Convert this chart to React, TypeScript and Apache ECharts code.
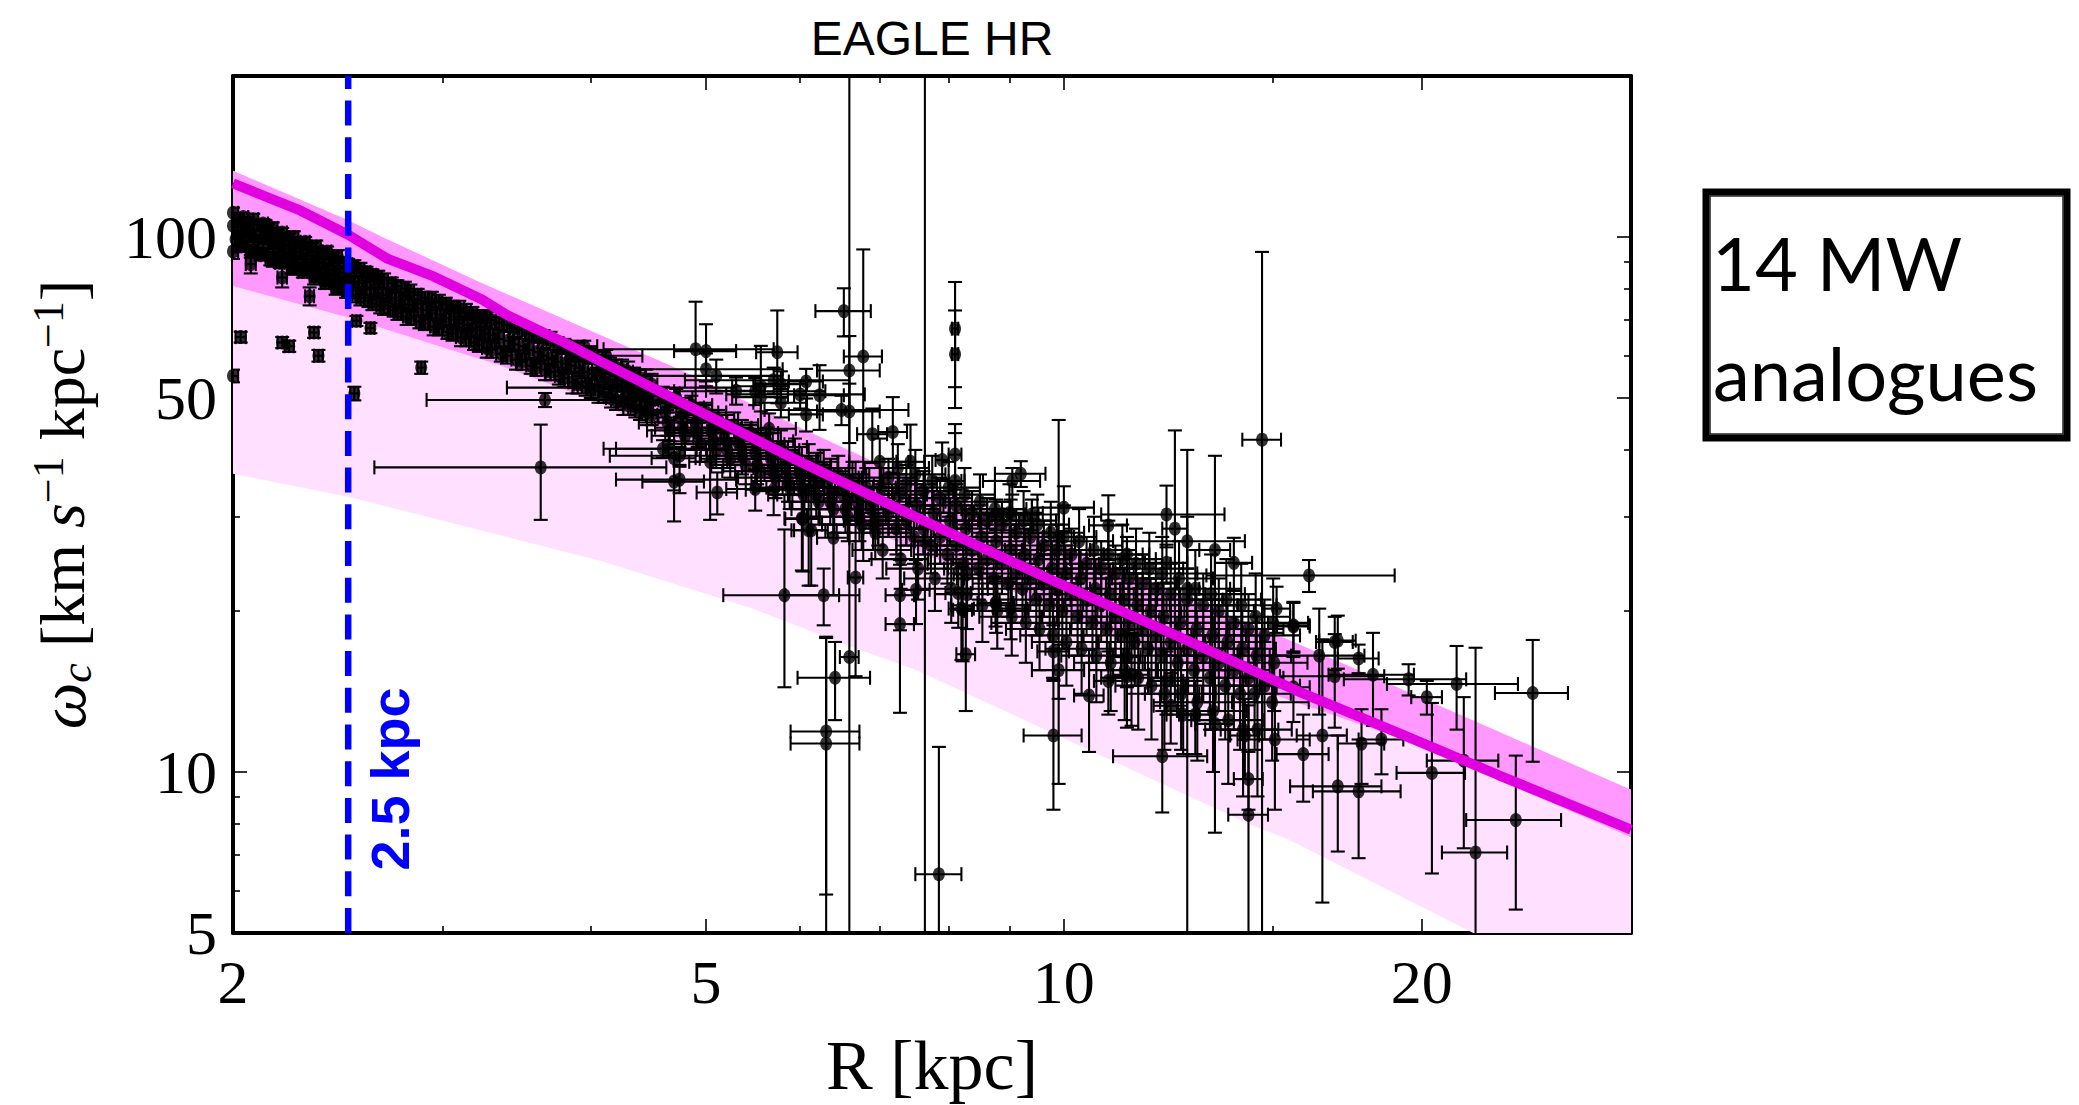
import React, { useEffect, useRef } from 'react';
import * as echarts from 'echarts';

// ---------- axes ----------
const X_MIN = 2;
const X_MAX = 30;
const Y_MIN = 5;
const Y_MAX = 200;
const xTickLabels = [2, 5, 10, 20];
const xMajorTicks = [5, 10, 20];
const xMinorTicks = [3, 4, 6, 7, 8, 9, 15];
const yTickLabels = [5, 10, 50, 100];
const yMajorTicks = [10, 50, 100];
const yMinorTicks = [6, 7, 8, 9, 20, 30, 40, 60, 70, 80, 90];

// ---------- model curve (magenta) ----------
const modelR = [2, 2.28, 2.5, 2.7, 2.95, 3.24, 3.4, 3.8, 4.08, 4.8, 6.0, 7.5, 9.7, 12.5, 15.8, 19, 23.2, 30];
const modelW = [126, 112, 101, 91, 84.4, 76.4, 71.5, 63.5, 58.5, 48.7, 38.0, 30.0, 23.0, 17.9, 14.1, 11.9, 9.87, 7.8];

// ---------- shaded bands ----------
const bandTopR = [2, 2.5, 2.67, 3.24, 4.06, 4.78, 6, 7.5, 9.7, 12.5, 15.8, 23.2, 30];
const bandTopW = [133, 107.5, 100, 82, 65.8, 56.2, 44, 35, 27.5, 21.5, 17.3, 11.9, 9.26];
const innerBandLowR = [2, 2.5, 3.37, 4.06, 4.48, 6, 7.5, 10, 13, 16, 20, 25, 30];
const innerBandLowW = [81, 70.7, 57.4, 49, 44.4, 32.5, 26, 19.8, 15.5, 13.3, 11.2, 9.0, 7.55];
const outerBandLowR = [2, 2.5, 4.08, 5.44, 6.6, 7.52, 9.72, 14.3, 15.46, 22.1, 30];
const outerBandLowW = [36.1, 32.7, 24.8, 20.3, 17.2, 15.5, 11.9, 8.0, 7.48, 5.0, 3.6];

// ---------- measured points: [R, omega, errR, errOmega] ----------
const innerPoints = [
  [2.00, 111, 0.02, 2.5], [2.00, 105, 0.02, 2], [2.01, 99, 0.02, 3], [2.00, 94, 0.02, 3],
  [2.04, 109, 0.02, 2], [2.05, 103, 0.02, 2.5], [2.04, 97, 0.02, 3],
  [2.08, 108, 0.02, 2.5], [2.09, 101, 0.02, 2], [2.08, 95, 0.02, 3],
  [2.12, 106, 0.02, 2], [2.13, 100, 0.02, 3], [2.12, 93, 0.02, 2.5],
  [2.16, 104, 0.02, 2.5], [2.17, 98, 0.02, 2], [2.16, 91, 0.02, 3],
  [2.20, 102, 0.02, 2], [2.21, 96, 0.02, 2.5], [2.20, 90, 0.02, 2],
  [2.25, 100, 0.02, 2.5], [2.26, 94, 0.02, 2], [2.25, 88, 0.02, 3],
  [2.30, 98, 0.02, 2], [2.31, 92, 0.02, 2.5], [2.30, 87, 0.02, 2],
  [2.35, 96, 0.02, 2.5], [2.36, 90, 0.02, 2], [2.35, 85, 0.02, 2.5],
  [2.40, 94, 0.02, 2], [2.41, 88, 0.02, 2.5], [2.40, 83, 0.02, 2],
  [2.45, 92, 0.02, 2.5], [2.46, 86, 0.02, 2], [2.45, 81, 0.02, 2.5],
  [2.50, 89, 0.02, 2], [2.51, 84, 0.02, 2.5], [2.50, 79, 0.02, 2],
  [2.56, 87, 0.02, 2.5], [2.57, 82, 0.02, 2], [2.56, 77, 0.02, 2.5],
  [2.62, 85, 0.02, 2], [2.63, 80, 0.02, 2.5], [2.62, 75, 0.02, 2],
  [2.68, 83, 0.02, 2.5], [2.69, 78, 0.02, 2], [2.68, 73.5, 0.02, 2],
  [2.75, 81, 0.02, 2], [2.76, 76, 0.02, 2.5], [2.75, 72, 0.02, 2],
  [2.82, 79, 0.02, 2.5], [2.83, 74.5, 0.02, 2], [2.82, 70.5, 0.02, 2],
  [2.90, 77, 0.02, 2], [2.91, 73, 0.02, 2.5], [2.90, 69, 0.02, 2],
  [2.98, 75.5, 0.02, 2.5], [2.99, 71.5, 0.02, 2], [2.98, 67.5, 0.02, 2],
  [3.06, 74, 0.03, 2], [3.07, 70, 0.03, 2.5], [3.06, 66, 0.03, 2],
  [3.14, 72.5, 0.03, 2.5], [3.15, 68.5, 0.03, 2], [3.14, 64.5, 0.03, 2],
  [3.22, 71, 0.03, 2], [3.23, 67, 0.03, 2.5], [3.22, 63, 0.03, 2],
  [3.30, 70, 0.03, 2.5], [3.31, 65.5, 0.03, 2], [3.30, 61.5, 0.03, 2],
  [3.40, 68.5, 0.03, 2], [3.41, 64, 0.03, 2.5], [3.40, 60, 0.03, 2],
  [3.50, 67, 0.03, 2.5], [3.51, 62.5, 0.03, 2], [3.50, 58.5, 0.03, 2],
  [3.60, 65.5, 0.03, 2], [3.61, 61, 0.03, 2.5], [3.60, 57, 0.03, 2],
  [3.70, 64, 0.03, 2.5], [3.71, 59.5, 0.03, 2], [3.70, 56, 0.03, 2],
  [3.80, 62.5, 0.03, 2], [3.81, 58, 0.03, 2.5], [3.80, 54.5, 0.03, 2],
  [3.90, 61, 0.03, 2.5], [3.91, 57, 0.03, 2], [3.90, 53, 0.03, 2],
  [4.00, 60, 0.03, 2], [4.01, 55.5, 0.03, 2.5], [4.00, 52, 0.03, 2],
  [4.10, 58.5, 0.04, 2.5], [4.11, 54.5, 0.04, 2], [4.10, 51, 0.04, 2],
  [4.20, 57, 0.04, 2], [4.21, 53, 0.04, 2.5], [4.20, 49.5, 0.04, 2],
  [4.30, 56, 0.04, 2.5], [4.31, 52, 0.04, 2], [4.30, 48.5, 0.04, 2],
  [4.40, 54.5, 0.04, 2], [4.41, 50.5, 0.04, 2.5], [4.40, 47.5, 0.04, 2],
  [4.50, 53, 0.05, 2.5], [4.51, 49.5, 0.05, 2], [4.50, 46.5, 0.05, 2],
];

const innerPointsB = [
  [2.02, 108, 0.02, 2], [2.02, 102, 0.02, 2.5], [2.03, 96, 0.02, 2],
  [2.06, 106.5, 0.02, 2.5], [2.06, 100, 0.02, 2], [2.07, 94, 0.02, 2.5],
  [2.10, 105, 0.02, 2], [2.10, 98, 0.02, 2.5], [2.11, 92.5, 0.02, 2],
  [2.14, 103, 0.02, 2.5], [2.14, 97, 0.02, 2], [2.15, 91, 0.02, 2.5],
  [2.18, 101, 0.02, 2], [2.18, 95, 0.02, 2.5], [2.19, 89.5, 0.02, 2],
  [2.23, 99, 0.02, 2.5], [2.23, 93, 0.02, 2], [2.24, 88, 0.02, 2.5],
  [2.28, 97, 0.02, 2], [2.28, 91, 0.02, 2.5], [2.29, 86, 0.02, 2],
  [2.33, 95, 0.02, 2.5], [2.33, 89, 0.02, 2], [2.34, 84, 0.02, 2.5],
  [2.38, 93, 0.02, 2], [2.38, 87, 0.02, 2.5], [2.39, 82, 0.02, 2],
  [2.43, 91, 0.02, 2.5], [2.43, 85, 0.02, 2], [2.44, 80.5, 0.02, 2.5],
  [2.48, 89.5, 0.02, 2], [2.48, 83.5, 0.02, 2.5], [2.49, 79, 0.02, 2],
  [2.53, 88, 0.02, 2.5], [2.53, 82.5, 0.02, 2], [2.54, 78, 0.02, 2.5],
  [2.59, 86, 0.02, 2], [2.59, 80.5, 0.02, 2.5], [2.60, 76, 0.02, 2],
  [2.65, 84, 0.02, 2.5], [2.65, 78.5, 0.02, 2], [2.66, 74.5, 0.02, 2.5],
  [2.72, 82, 0.02, 2], [2.72, 77, 0.02, 2.5], [2.73, 73, 0.02, 2],
  [2.79, 80, 0.02, 2.5], [2.79, 75, 0.02, 2], [2.80, 71, 0.02, 2.5],
  [2.86, 78, 0.02, 2], [2.86, 73.5, 0.02, 2.5], [2.87, 69.5, 0.02, 2],
  [2.94, 76.5, 0.02, 2.5], [2.94, 72, 0.02, 2], [2.95, 68, 0.02, 2.5],
  [3.02, 75, 0.03, 2], [3.02, 70.5, 0.03, 2.5], [3.03, 66.5, 0.03, 2],
  [3.10, 73.5, 0.03, 2.5], [3.10, 69, 0.03, 2], [3.11, 65, 0.03, 2.5],
  [3.18, 72, 0.03, 2], [3.18, 67.5, 0.03, 2.5], [3.19, 63.5, 0.03, 2],
  [3.26, 70.5, 0.03, 2.5], [3.26, 66, 0.03, 2], [3.27, 62, 0.03, 2.5],
  [3.35, 69, 0.03, 2], [3.35, 64.5, 0.03, 2.5], [3.36, 60.5, 0.03, 2],
  [3.45, 67.5, 0.03, 2.5], [3.45, 63, 0.03, 2], [3.46, 59, 0.03, 2.5],
  [3.55, 66, 0.03, 2], [3.55, 61.5, 0.03, 2.5], [3.56, 57.5, 0.03, 2],
  [3.65, 64.5, 0.03, 2.5], [3.65, 60, 0.03, 2], [3.66, 56.5, 0.03, 2.5],
  [3.75, 63, 0.03, 2], [3.75, 58.5, 0.03, 2.5], [3.76, 55, 0.03, 2],
  [3.85, 61.5, 0.03, 2.5], [3.85, 57.5, 0.03, 2], [3.86, 53.5, 0.03, 2.5],
  [3.95, 60.5, 0.03, 2], [3.95, 56, 0.03, 2.5], [3.96, 52.5, 0.03, 2],
  [4.05, 59, 0.04, 2.5], [4.05, 55, 0.04, 2], [4.06, 51.5, 0.04, 2.5],
  [4.15, 57.5, 0.04, 2], [4.15, 53.5, 0.04, 2.5], [4.16, 50, 0.04, 2],
  [4.25, 56.5, 0.04, 2.5], [4.25, 52.5, 0.04, 2], [4.26, 49, 0.04, 2.5],
  [4.35, 55, 0.04, 2], [4.35, 51, 0.04, 2.5], [4.36, 48, 0.04, 2],
  [4.45, 54, 0.05, 2.5], [4.45, 50, 0.05, 2], [4.46, 47, 0.05, 2.5],
];

const midPoints = [
  [4.60, 51, 0.15, 1.5], [4.62, 47, 0.2, 2], [4.66, 43.5, 0.2, 2],
  [4.72, 50, 0.15, 2], [4.76, 46, 0.2, 2], [4.80, 42.5, 0.3, 2.5],
  [4.86, 48.5, 0.2, 2], [4.90, 45, 0.2, 2], [4.95, 41, 0.3, 3],
  [5.00, 47, 0.2, 2], [5.05, 43.5, 0.25, 2], [5.10, 40, 0.3, 3],
  [5.12, 45.5, 0.2, 2], [5.18, 42, 0.3, 2], [5.24, 38.5, 0.3, 3],
  [5.28, 44.5, 0.25, 2.5], [5.33, 41, 0.3, 3], [5.40, 37.5, 0.35, 3],
  [5.45, 43, 0.3, 2], [5.50, 39.5, 0.3, 3], [5.56, 36.5, 0.4, 3],
  [5.62, 41.5, 0.3, 2.5], [5.67, 38.5, 0.3, 3], [5.72, 35.5, 0.4, 3],
  [5.78, 40.5, 0.3, 3], [5.83, 37, 0.35, 3], [5.88, 34, 0.4, 3],
  [5.94, 39, 0.3, 3], [6.00, 36, 0.4, 3], [6.04, 33, 0.4, 3],
  [6.10, 38, 0.35, 3], [6.16, 35, 0.4, 3], [6.22, 32, 0.4, 3],
  [6.28, 37, 0.4, 3], [6.33, 34, 0.4, 3], [6.40, 31, 0.5, 3],
  [6.46, 36, 0.4, 3], [6.52, 33, 0.45, 3], [6.58, 30, 0.5, 3],
  [6.64, 35, 0.4, 3], [6.70, 32, 0.5, 3], [6.76, 29, 0.5, 3],
  [6.82, 34, 0.4, 3], [6.88, 31, 0.5, 3], [6.94, 28, 0.5, 3],
  [4.64, 49, 0.2, 2], [4.64, 45, 0.25, 2.5], [4.78, 48, 0.2, 2], [4.78, 44, 0.25, 2.5],
  [4.92, 47, 0.2, 2], [4.92, 43, 0.3, 2.5], [5.07, 45.5, 0.25, 2], [5.07, 41.5, 0.3, 3],
  [5.21, 44, 0.25, 2.5], [5.21, 40, 0.3, 3], [5.36, 43, 0.3, 2.5], [5.36, 39, 0.35, 3],
  [5.52, 41, 0.3, 2.5], [5.52, 37.5, 0.35, 3], [5.69, 40, 0.3, 3], [5.69, 36.5, 0.4, 3],
  [5.86, 38.5, 0.35, 3], [5.86, 35, 0.4, 3], [6.02, 37.5, 0.35, 3], [6.02, 34, 0.4, 3],
  [6.19, 36.5, 0.4, 3], [6.19, 33, 0.45, 3], [6.36, 35.5, 0.4, 3], [6.36, 32, 0.45, 3],
  [6.55, 34, 0.45, 3], [6.55, 31, 0.5, 3], [6.73, 33, 0.45, 3], [6.73, 30, 0.5, 3],
  [6.91, 32, 0.5, 3], [6.91, 29, 0.5, 3],
];

const outerPoints = [
  [7.00, 38, 0.4, 4], [7.02, 34, 0.35, 3], [6.98, 29.5, 0.45, 3], [7.04, 26, 0.4, 3],
  [7.25, 37, 0.45, 4], [7.27, 33, 0.4, 3], [7.23, 28.5, 0.45, 3], [7.29, 25, 0.4, 3],
  [7.50, 36, 0.45, 4], [7.52, 31.5, 0.4, 3], [7.48, 27.5, 0.5, 3], [7.54, 24, 0.45, 3],
  [7.75, 35, 0.5, 4], [7.77, 30.5, 0.45, 3], [7.73, 26.5, 0.5, 3], [7.79, 23, 0.45, 3],
  [8.00, 34, 0.5, 4], [8.02, 29.5, 0.45, 3], [7.98, 25.5, 0.5, 3], [8.04, 22, 0.5, 3],
  [8.25, 33, 0.5, 4], [8.27, 28.5, 0.5, 3], [8.23, 24.5, 0.55, 3], [8.29, 21.5, 0.5, 3],
  [8.50, 32, 0.55, 4], [8.52, 27.5, 0.5, 3], [8.48, 24, 0.55, 3], [8.54, 20.5, 0.5, 3],
  [8.75, 31, 0.55, 4], [8.77, 27, 0.5, 3], [8.73, 23, 0.6, 3], [8.79, 20, 0.55, 3],
  [9.00, 30.5, 0.6, 4], [9.02, 26, 0.55, 3], [8.98, 22.5, 0.6, 3], [9.04, 19.5, 0.55, 3],
  [9.25, 29.5, 0.6, 4], [9.27, 25.5, 0.55, 3], [9.23, 22, 0.6, 3], [9.29, 19, 0.6, 3],
  [9.50, 29, 0.6, 4], [9.52, 25, 0.6, 3], [9.48, 21, 0.65, 3], [9.54, 18.5, 0.6, 3],
  [9.75, 28, 0.65, 4], [9.77, 24, 0.6, 3], [9.73, 20.5, 0.65, 3], [9.79, 18, 0.6, 3],
  [10.0, 27.5, 0.65, 4], [10.03, 23.5, 0.6, 3], [9.97, 20, 0.7, 3], [10.05, 17.5, 0.65, 3],
  [10.3, 27, 0.7, 4], [10.33, 23, 0.65, 3], [10.27, 19.5, 0.7, 3], [10.35, 17, 0.7, 3],
  [10.6, 26, 0.7, 4], [10.63, 22, 0.7, 3], [10.57, 19, 0.75, 3], [10.65, 16.5, 0.7, 3],
  [10.9, 25.5, 0.75, 4], [10.93, 21.5, 0.7, 3], [10.87, 18.5, 0.75, 3], [10.95, 16, 0.75, 3],
  [11.2, 25, 0.75, 4], [11.23, 21, 0.75, 3], [11.17, 18, 0.8, 3], [11.25, 15.5, 0.75, 3],
  [11.5, 24.5, 0.8, 4], [11.53, 20.5, 0.75, 3], [11.47, 17.5, 0.8, 3], [11.55, 15, 0.8, 3],
  [11.8, 24, 0.8, 4], [11.83, 20, 0.8, 3], [11.77, 17, 0.85, 3], [11.85, 14.5, 0.8, 3],
  [12.1, 23.5, 0.85, 4], [12.13, 19.5, 0.8, 3], [12.07, 16.5, 0.85, 3], [12.15, 14, 0.85, 3],
  [12.5, 23, 0.85, 4], [12.53, 19, 0.85, 3], [12.47, 16, 0.9, 3], [12.55, 14, 0.85, 3],
  [12.9, 22, 0.9, 4], [12.93, 18.5, 0.85, 3], [12.87, 15.5, 0.9, 3], [12.95, 13.5, 0.9, 3],
  [13.3, 21.5, 0.9, 4], [13.33, 18, 0.9, 3], [13.27, 15, 0.95, 3], [13.35, 13, 0.9, 3],
  [13.7, 21, 0.95, 4], [13.73, 17.5, 0.9, 3], [13.67, 14.5, 0.95, 3], [13.75, 12.5, 0.95, 3],
  [14.1, 20.5, 1.0, 4], [14.13, 17, 0.95, 3], [14.07, 14, 1.0, 3], [14.15, 12, 1.0, 3],
  [14.5, 19.5, 1.0, 4], [14.53, 16.5, 1.0, 3], [14.47, 14, 1.05, 3], [14.55, 12, 1.0, 3],
  [15.0, 19, 1.05, 4], [15.03, 16, 1.0, 3], [14.97, 13.5, 1.1, 3], [15.05, 11.5, 1.05, 3],
  [7.12, 35.5, 0.4, 3], [7.12, 30.5, 0.45, 3], [7.37, 34.5, 0.45, 3], [7.37, 29.5, 0.45, 3],
  [7.62, 33.5, 0.45, 3], [7.62, 28.5, 0.5, 3], [7.87, 32.5, 0.5, 3], [7.87, 27.5, 0.5, 3],
  [8.12, 31.5, 0.5, 3], [8.12, 26.5, 0.5, 3], [8.37, 30.5, 0.5, 3], [8.37, 26, 0.55, 3],
  [8.62, 29.5, 0.55, 3], [8.62, 25, 0.55, 3], [8.87, 29, 0.55, 3], [8.87, 24.5, 0.6, 3],
  [9.12, 28, 0.6, 3], [9.12, 23.5, 0.6, 3], [9.37, 27.5, 0.6, 3], [9.37, 23, 0.6, 3],
  [9.62, 26.5, 0.6, 3], [9.62, 22.5, 0.65, 3], [9.87, 26, 0.65, 3], [9.87, 22, 0.65, 3],
  [10.15, 25.5, 0.65, 3], [10.15, 21.5, 0.7, 3], [10.45, 24.5, 0.7, 3], [10.45, 21, 0.7, 3],
  [10.75, 24, 0.7, 3], [10.75, 20.5, 0.75, 3], [11.05, 23.5, 0.75, 3], [11.05, 19.5, 0.75, 3],
  [11.35, 23, 0.75, 3], [11.35, 19, 0.8, 3], [11.65, 22.5, 0.8, 3], [11.65, 18.5, 0.8, 3],
  [11.95, 22, 0.8, 3], [11.95, 18, 0.85, 3], [12.3, 21.5, 0.85, 3], [12.3, 17.5, 0.85, 3],
  [12.7, 21, 0.9, 3], [12.7, 17, 0.9, 3], [13.1, 20.5, 0.9, 3], [13.1, 16.5, 0.9, 3],
  [13.5, 20, 0.95, 3], [13.5, 16, 0.95, 3], [13.9, 19, 0.95, 3], [13.9, 15.5, 1.0, 3],
  [14.3, 18.5, 1.0, 3], [14.3, 15, 1.0, 3], [14.75, 18, 1.05, 3], [14.75, 14.5, 1.05, 3],
];

const scatteredPoints = [
  [2.03, 65, 0.02, 1.5], [2.00, 55, 0.02, 1.5], [2.20, 63.5, 0.02, 1.5], [2.23, 62.5, 0.02, 1.5],
  [2.34, 66.3, 0.02, 1.5], [2.36, 60, 0.02, 1.5], [2.53, 51, 0.02, 1.5], [2.88, 57, 0.02, 1.5],
  [2.61, 67.6, 0.02, 1.5], [2.54, 69.7, 0.02, 1.5],
  [2.07, 89, 0.02, 3.5], [2.20, 84, 0.02, 3.5], [2.32, 77.5, 0.02, 3], [2.13, 105, 0.02, 2.5],
  [3.66, 49.6, 0.75, 1.5], [3.63, 37.1, 1.0, 7.5], [4.35, 52.3, 0.95, 1.5], [4.65, 40.2, 0.55, 1.5],
  [4.75, 39, 0.6, 1.5], [4.75, 35.2, 0.55, 2], [3.95, 62.5, 0.1, 1.5], [4.12, 60, 0.3, 1.5],
  [4.90, 61.7, 0.8, 14], [5.00, 61.2, 0.3, 7.5], [5.74, 60.9, 0.23, 12], [6.53, 72.7, 0.35, 7.5],
  [6.78, 59.8, 0.25, 35], [6.60, 16.4, 0.12, 200], [7.64, 27, 0.15, 190],
  [5.0, 56.6, 0.8, 4], [5.1, 55, 0.7, 4], [5.7, 54, 0.9, 3], [5.5, 51.5, 0.8, 3], [6.0, 50.8, 0.8, 3],
  [6.5, 47.5, 0.9, 3], [6.23, 50.6, 0.3, 7], [6.07, 46.6, 0.2, 3.3], [6.07, 53.7, 0.2, 3],
  [6.6, 56.3, 0.4, 9], [6.6, 47.2, 0.4, 6], [7.18, 43.2, 0.2, 7], [7.43, 38, 0.2, 6.6],
  [6.9, 42.8, 0.2, 5], [7.9, 38.3, 0.1, 3], [8.1, 39.2, 0.1, 5.5], [8.1, 67.4, 0.05, 15],
  [8.1, 60.4, 0.05, 12.5], [8.1, 35, 0.1, 8], [9.2, 36.1, 0.45, 2], [9.05, 35, 0.5, 2],
  [8.77, 30.3, 0.5, 2], [9.02, 30.3, 0.5, 2], [9.4, 30.3, 0.5, 2],
  [5.56, 52.6, 0.3, 10], [5.56, 50.2, 0.3, 3], [5.78, 53.1, 0.3, 3], [5.78, 49, 0.3, 3],
  [5.65, 43.8, 0.3, 3], [5.3, 51.6, 0.3, 3],
  [4.6, 40.2, 0.4, 1.5], [4.7, 38.6, 0.2, 5], [4.7, 34.9, 0.28, 5.5], [5.04, 38, 0.2, 8.4],
  [5.11, 33.3, 0.2, 3], [5.5, 33.8, 0.3, 3], [5.7, 33.7, 0.3, 3.5], [6.03, 29.7, 0.2, 6],
  [6.13, 28.3, 0.2, 6], [6.4, 27.4, 0.2, 6],
  [5.82, 21.4, 0.65, 7], [6.28, 21.4, 0.45, 2.6], [6.68, 23.1, 0.1, 8], [7.28, 21.4, 0.2, 3],
  [7.28, 18.9, 0.2, 6], [7.51, 21.9, 0.2, 3], [8.15, 21.6, 0.2, 3], [8.2, 20.2, 0.2, 4],
  [8.77, 20.7, 0.3, 2.5], [9.02, 20.2, 0.3, 2.5], [8.28, 23.4, 0.2, 3],
  [6.31, 11.9, 0.42, 6], [6.31, 11.3, 0.42, 6.5], [6.42, 15, 0.45, 2.5], [7.85, 6.44, 0.35, 4.7],
  [6.02, 29.8, 0.2, 6], [6.1, 28.3, 0.2, 6], [8.27, 16.6, 0.15, 3.6], [8.22, 20.1, 0.15, 4],
  [9.8, 11.7, 0.55, 3.2], [9.9, 15.5, 0.5, 1.8], [10.5, 13.9, 0.3, 3], [10.9, 14.8, 0.3, 2],
  [11.3, 15.1, 0.3, 3], [12.1, 10.7, 1.1, 2.3], [12.3, 13.3, 0.4, 2], [12.6, 12.8, 0.4, 2],
  [12.9, 12.8, 0.4, 2], [13.4, 12.3, 0.5, 4.6], [12.2, 30.3, 1.45, 4], [10.9, 28.9, 0.4, 4],
  [12.7, 27, 1.5, 3], [12.7, 22, 0.3, 18], [13.9, 24.6, 0.5, 2.8], [10.0, 31.2, 0.6, 3],
  [12.2, 24.6, 0.5, 2], [11.3, 25.5, 0.5, 2], [9.8, 16.8, 0.3, 2], [8.76, 20.7, 0.3, 2],
  [11.3, 16.4, 0.3, 2], [12.2, 14.8, 0.4, 2], [11.4, 15.2, 0.4, 3],
  [9.9, 27.5, 0.3, 18], [12.4, 28.5, 0.3, 15], [13.4, 26, 0.4, 13],
  [14.68, 41.8, 0.55, 52], [16.08, 23.3, 2.9, 1.6], [15.1, 20.2, 0.4, 2], [15.6, 18.7, 0.5, 2],
  [16.4, 16.5, 1.5, 3.7], [16.9, 15.1, 1.7, 3], [17.0, 17.6, 0.6, 2], [17.7, 16.3, 0.7, 1],
  [18.2, 15.2, 1.5, 3], [19.5, 14.9, 2.3, 1], [21.4, 14.6, 2.7, 2.6], [20.2, 13.8, 0.6, 1],
  [20.4, 9.96, 1.35, 3.5], [16.5, 11.7, 0.8, 6], [17.8, 11.3, 0.8, 1.8], [18.5, 11.5, 0.8, 1.6],
  [17.0, 9.4, 1.5, 2.3], [17.7, 9.2, 1.5, 2.3], [14.3, 8.32, 0.55, 5], [14.3, 9.7, 0.4, 1.2],
  [14.2, 11.7, 0.4, 2], [24.8, 14.05, 1.75, 3.6], [21.7, 10.5, 1.5, 3.3], [22.2, 7.07, 1.4, 10],
  [24.0, 8.13, 2.2, 2.6], [15.6, 18.8, 0.5, 2], [16.9, 17.5, 0.6, 2], [15.6, 14.4, 0.5, 2],
  [15.9, 10.8, 0.8, 2],
];

const CUT_R = 2.5;

const lg = (v: number) => Math.log10(v);
const fmt = (v: number) => String(Math.round(Math.pow(10, v)));

const SERIF = 'Liberation Serif, Times New Roman, serif';

function App() {
  const ref = useRef<HTMLDivElement>(null);

  useEffect(() => {
    if (!ref.current) return;
    const chart = echarts.init(ref.current, null, { renderer: 'svg' });

    const allPoints = [...innerPoints, ...innerPointsB, ...midPoints, ...outerPoints, ...scatteredPoints];
    const errData = allPoints.map(([r, w, er, ew]) => [
      lg(r), lg(w),
      lg(Math.max(r - er, 0.1)), lg(r + er),
      lg(Math.max(w - ew, 0.1)), lg(w + ew),
    ]);
    const dotData = allPoints.map(([r, w]) => [lg(r), lg(w)]);

    const bandSeries = (lowR: number[], lowW: number[], color: string, z: number) => ({
      type: 'custom',
      clip: true,
      silent: true,
      z,
      data: [[lg(3), lg(50)]],
      renderItem: (_p: any, api: any) => {
        const pts: number[][] = [];
        bandTopR.forEach((r, i) => pts.push(api.coord([lg(r), lg(bandTopW[i])])));
        for (let i = lowR.length - 1; i >= 0; i--) pts.push(api.coord([lg(lowR[i]), lg(lowW[i])]));
        return { type: 'polygon', shape: { points: pts }, style: { fill: color } };
      },
    });

    const tickStyle = { color: '#000', width: 1.6 };
    const xAx = (pos: string, ticks: number[], len: number, main: boolean) => ({
      type: 'value',
      position: pos,
      min: lg(X_MIN),
      max: lg(X_MAX),
      splitLine: { show: false },
      axisLine: { show: main, onZero: false, lineStyle: { color: '#000', width: 4 } },
      axisTick: { show: true, inside: true, length: len, lineStyle: tickStyle, customValues: ticks.map(lg) },
      axisLabel: main && pos === 'bottom'
        ? { show: true, customValues: xTickLabels.map(lg), formatter: fmt, fontFamily: SERIF, fontSize: 62, color: '#000', margin: 18 }
        : { show: false },
      ...(main && pos === 'bottom'
        ? { name: 'R [kpc]', nameLocation: 'middle', nameGap: 97, nameTextStyle: { fontFamily: SERIF, fontSize: 70, color: '#000' } }
        : {}),
    });
    const yAx = (pos: string, ticks: number[], len: number, main: boolean) => ({
      type: 'value',
      position: pos,
      min: lg(Y_MIN),
      max: lg(Y_MAX),
      splitLine: { show: false },
      axisLine: { show: main, onZero: false, lineStyle: { color: '#000', width: 4 } },
      axisTick: { show: true, inside: true, length: len, lineStyle: tickStyle, customValues: ticks.map(lg) },
      axisLabel: main && pos === 'left'
        ? { show: true, customValues: yTickLabels.map(lg), formatter: fmt, fontFamily: SERIF, fontSize: 62, color: '#000', margin: 16 }
        : { show: false },
      ...(main && pos === 'left'
        ? {
            name: '{w|ω}{sub|c}{n| [km }{s|s}{sup|−1}{n| kpc}{sup|−1}{n|]}',
            nameLocation: 'middle',
            nameRotate: 90,
            nameGap: 135,
            nameTextStyle: {
              color: '#000',
              rich: {
                w: { fontFamily: SERIF, fontStyle: 'italic', fontSize: 66, lineHeight: 72, color: '#000' },
                sub: { fontFamily: SERIF, fontStyle: 'italic', fontSize: 44, lineHeight: 34, verticalAlign: 'bottom', color: '#000' },
                n: { fontFamily: SERIF, fontSize: 64, lineHeight: 72, color: '#000' },
                s: { fontFamily: SERIF, fontStyle: 'italic', fontSize: 64, lineHeight: 72, color: '#000' },
                sup: { fontFamily: SERIF, fontSize: 44, lineHeight: 34, verticalAlign: 'top', color: '#000' },
              },
            },
          }
        : {}),
    });

    const option: any = {
      animation: false,
      backgroundColor: '#fff',
      grid: { left: 233, top: 76, width: 1398, height: 861, containLabel: false },
      xAxis: [
        xAx('bottom', xMajorTicks, 14, true),
        xAx('bottom', xMinorTicks, 7, false),
        xAx('top', xMajorTicks, 14, true),
        xAx('top', xMinorTicks, 7, false),
      ],
      yAxis: [
        yAx('left', yMajorTicks, 14, true),
        yAx('left', yMinorTicks, 7, false),
        yAx('right', yMajorTicks, 14, true),
        yAx('right', yMinorTicks, 7, false),
      ],
      graphic: [
        {
          type: 'text', x: 932, y: 38, z: 10,
          style: { text: 'EAGLE HR', fontFamily: 'Liberation Sans, Arial, sans-serif', fontSize: 48, fill: '#000', textAlign: 'center', textVerticalAlign: 'middle' },
        },
        {
          type: 'text', x: 390, y: 779, rotation: Math.PI / 2, z: 100,
          style: { text: '2.5 kpc', fontFamily: 'Liberation Sans, Arial, sans-serif', fontWeight: 'bold', fontSize: 54, fill: '#0000FF', textAlign: 'center', textVerticalAlign: 'middle' },
        },
        {
          type: 'group', z: 10,
          children: [
            { type: 'rect', shape: { x: 1706, y: 192, width: 361, height: 246 }, style: { fill: '#fff', stroke: '#000', lineWidth: 7 } },
            { type: 'rect', shape: { x: 1710, y: 196, width: 353, height: 238 }, style: { fill: 'none', stroke: '#222', lineWidth: 1.5 } },
            { type: 'text', x: 1712, y: 262, style: { text: '14 MW', fontFamily: 'Lato, sans-serif', fontSize: 74, fill: '#000', textAlign: 'left', textVerticalAlign: 'middle' } },
            { type: 'text', x: 1713, y: 372, style: { text: 'analogues', fontFamily: 'Lato, sans-serif', fontSize: 74, fill: '#000', textAlign: 'left', textVerticalAlign: 'middle' } },
          ],
        },
      ],
      series: [
        bandSeries(outerBandLowR, outerBandLowW, '#FFE0FF', 1),
        bandSeries(innerBandLowR, innerBandLowW, '#FF99FF', 2),
        {
          type: 'custom',
          clip: true,
          silent: true,
          z: 3,
          dimensions: ['x', 'y', 'xl', 'xh', 'yl', 'yh'],
          encode: { x: 0, y: 1 },
          data: errData,
          renderItem: (_p: any, api: any) => {
            const cx = api.value(0);
            const cy = api.value(1);
            const c = api.coord([cx, cy]);
            const xl = api.coord([api.value(2), cy])[0];
            const xh = api.coord([api.value(3), cy])[0];
            const yl = api.coord([cx, api.value(4)])[1];
            const yh = api.coord([cx, api.value(5)])[1];
            const cap = 7;
            const st = { stroke: '#000', lineWidth: 2.1 };
            return {
              type: 'group',
              children: [
                { type: 'line', shape: { x1: c[0], y1: yl, x2: c[0], y2: yh }, style: st },
                { type: 'line', shape: { x1: c[0] - cap, y1: yl, x2: c[0] + cap, y2: yl }, style: st },
                { type: 'line', shape: { x1: c[0] - cap, y1: yh, x2: c[0] + cap, y2: yh }, style: st },
                { type: 'line', shape: { x1: xl, y1: c[1], x2: xh, y2: c[1] }, style: st },
                { type: 'line', shape: { x1: xl, y1: c[1] - cap, x2: xl, y2: c[1] + cap }, style: st },
                { type: 'line', shape: { x1: xh, y1: c[1] - cap, x2: xh, y2: c[1] + cap }, style: st },
              ],
            };
          },
        },
        {
          type: 'scatter',
          z: 4,
          silent: true,
          symbol: 'circle',
          symbolSize: [12, 14],
          itemStyle: { color: '#000' },
          data: dotData,
        },
        {
          type: 'line',
          z: 5,
          silent: true,
          showSymbol: false,
          symbol: 'none',
          lineStyle: { color: '#E000E0', width: 10 },
          data: modelR.map((r, i) => [lg(r), lg(modelW[i])]),
        },
        {
          type: 'line',
          z: 6,
          silent: true,
          showSymbol: false,
          symbol: 'none',
          lineStyle: { color: '#0000FF', width: 6.5, type: [25, 11.7] },
          data: [[lg(CUT_R), lg(Y_MIN)], [lg(CUT_R), lg(Y_MAX)]],
        },
      ],
    };

    chart.setOption(option);
    return () => chart.dispose();
  }, []);

  return (
    <div
      ref={ref}
      style={{ position: 'absolute', left: 0, top: 0, width: 2079, height: 1105, background: '#fff' }}
    />
  );
}

export default App;
